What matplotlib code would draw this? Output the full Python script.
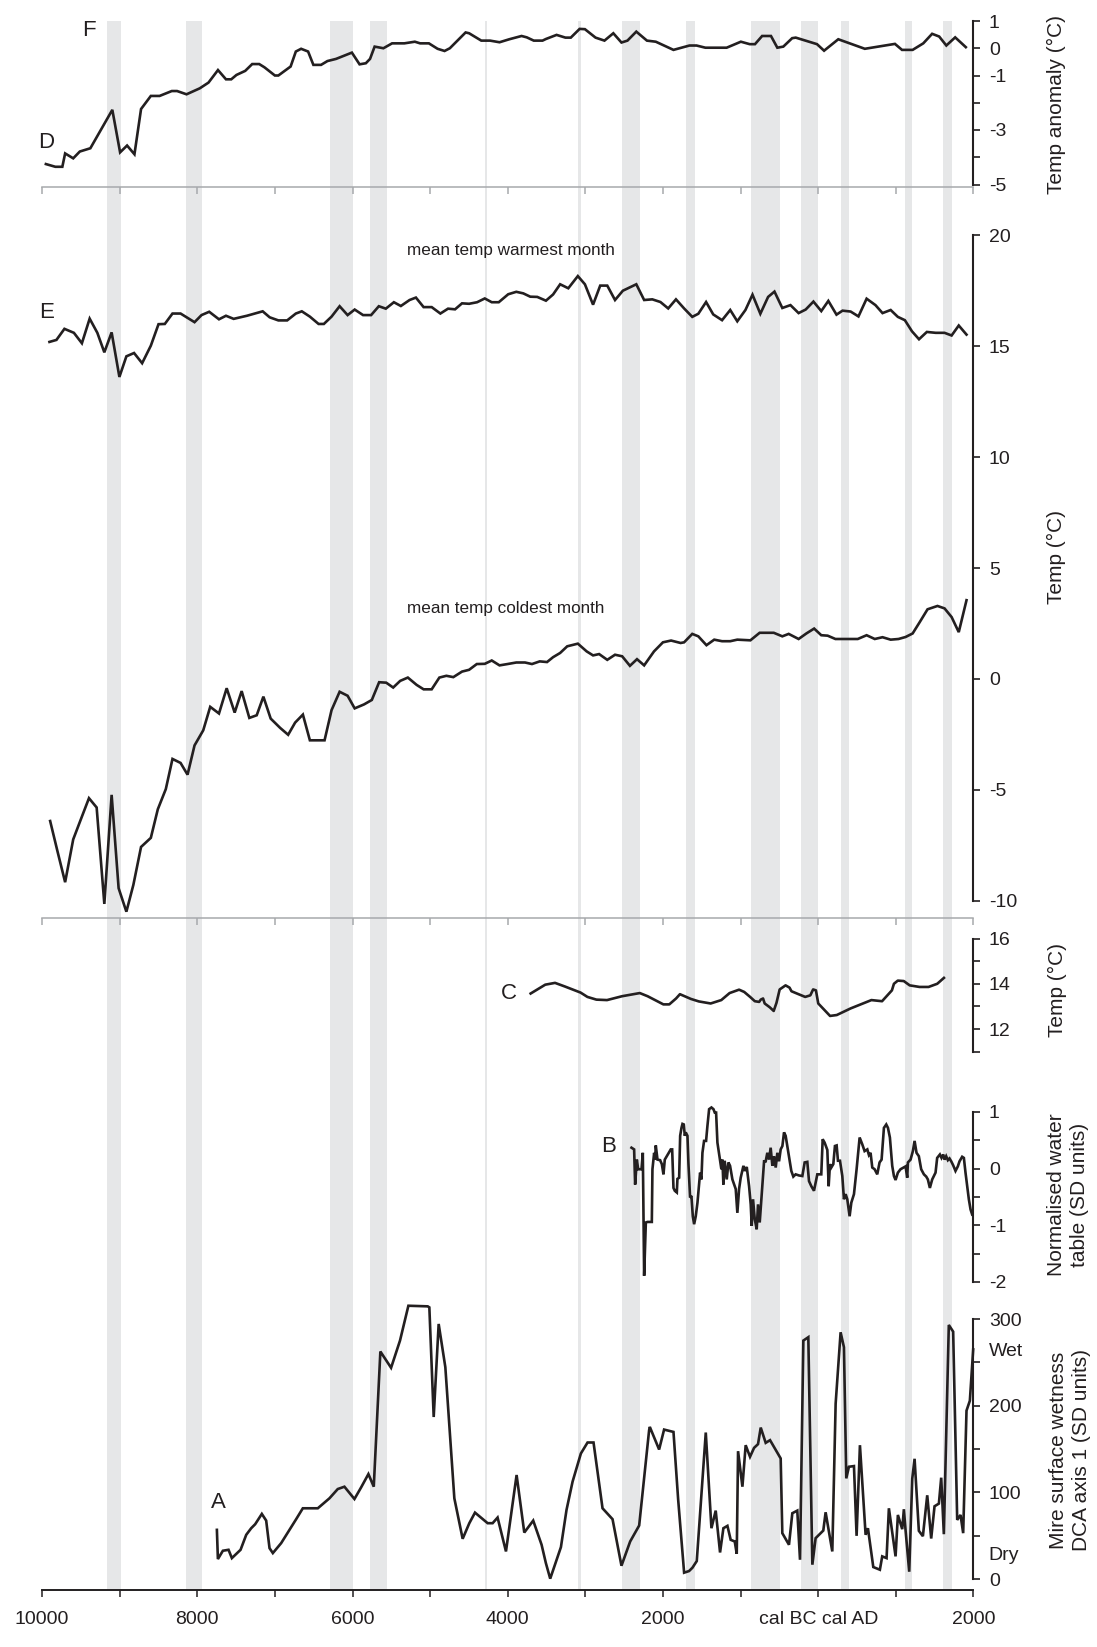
import matplotlib
matplotlib.use("Agg")
import matplotlib.pyplot as plt
import matplotlib.transforms as mtransforms

plt.rcParams['font.family'] = ['Liberation Sans', 'DejaVu Sans']

# ---------------- data ----------------
# grey event bands (cal yr; negative = BC)
band_start = [-9161, -8147, -6288, -5774, -4296, -3097, -2522, -1707, -862, -216, 288, 1112, 1610]
band_end   = [-8981, -7935, -5994, -5557, -4262, -3053, -2296, -1589, -497, 0, 400, 1202, 1725]

# D / F : temperature anomaly
df_year = [-9950, -9828, -9738, -9702, -9598, -9513, -9377, -9094, -8994, -8904,
           -8809, -8724, -8598, -8485, -8328, -8260, -8138, -7967, -7855, -7733,
           -7630, -7562, -7495, -7382, -7292, -7202, -7134, -7000, -6955, -6797,
           -6730, -6662, -6572, -6504, -6405, -6323, -6211, -6008, -5909, -5828,
           -5774, -5715, -5602, -5490, -5332, -5197, -5129, -5016, -4904, -4814,
           -4746, -4543, -4498, -4341, -4228, -4106, -3980, -3822, -3755, -3665,
           -3552, -3508, -3371, -3257, -3188, -3074, -3006, -2869, -2754, -2640,
           -2535, -2458, -2344, -2207, -2093, -1865, -1659, -1568, -1454, -1180,
           -997, -883, -815, -723, -609, -527, -450, -336, -290, -16,
           75, 258, 600, 988, 1079, 1216, 1353, 1467, 1558, 1650,
           1764, 1901]
df_val = [-4.25, -4.35, -4.35, -3.86, -4.04, -3.79, -3.67, -2.26, -3.82, -3.57,
          -3.89, -2.23, -1.75, -1.75, -1.57, -1.57, -1.69, -1.47, -1.26, -0.80,
          -1.14, -1.14, -0.98, -0.83, -0.58, -0.58, -0.70, -1.00, -1.00, -0.67,
          -0.12, -0.02, -0.12, -0.61, -0.61, -0.47, -0.39, -0.16, -0.59, -0.55,
          -0.39, 0.06, 0.00, 0.18, 0.18, 0.24, 0.18, 0.18, -0.02, -0.10,
          0.00, 0.58, 0.55, 0.28, 0.28, 0.22, 0.33, 0.45, 0.40, 0.28,
          0.28, 0.34, 0.49, 0.39, 0.39, 0.71, 0.70, 0.39, 0.28, 0.55,
          0.21, 0.28, 0.61, 0.28, 0.24, -0.06, 0.10, 0.10, 0.02, 0.02,
          0.24, 0.15, 0.15, 0.45, 0.45, 0.02, 0.06, 0.37, 0.39, 0.15,
          -0.09, 0.33, -0.02, 0.16, -0.06, -0.06, 0.18, 0.53, 0.43, 0.10,
          0.40, 0.04]

# E : mean temp warmest month
warm_year = [-9904, -9814, -9711, -9589, -9486, -9386, -9287, -9197, -9103, -9003,
             -8913, -8814, -8710, -8598, -8499, -8418, -8319, -8215, -8035, -7945,
             -7846, -7720, -7630, -7531, -7360, -7157, -7067, -6955, -6842, -6730,
             -6653, -6549, -6437, -6369, -6270, -6166, -6063, -5972, -5864, -5760,
             -5661, -5571, -5467, -5377, -5265, -5183, -5084, -4980, -4868, -4769,
             -4679, -4589, -4498, -4395, -4296, -4206, -4116, -3994, -3890, -3800,
             -3710, -3620, -3508,
             -3416, -3325, -3220, -3097, -3006, -2901, -2809, -2718, -2618, -2517,
             -2344, -2243, -2138, -2033, -1933, -1833, -1728, -1623, -1545, -1445,
             -1353, -1239, -1134, -1043, -938, -847, -746, -646, -564, -463,
             -358, -253, -162, -62, 39, 130, 235, 313, 417, 518,
             623, 737, 828, 933, 1025, 1116, 1207, 1298, 1399, 1513,
             1627, 1718, 1810, 1910]
warm_val = [15.20, 15.29, 15.79, 15.61, 15.14, 16.25, 15.61, 14.73, 15.63, 13.62,
            14.55, 14.70, 14.24, 15.03, 16.00, 16.01, 16.48, 16.48, 16.09, 16.41,
            16.56, 16.22, 16.38, 16.24, 16.38, 16.58, 16.31, 16.17, 16.17, 16.48,
            16.58, 16.34, 16.01, 16.01, 16.34, 16.81, 16.41, 16.66, 16.41, 16.41,
            16.81, 16.70, 16.99, 16.82, 17.09, 17.20, 16.77, 16.77, 16.48, 16.70,
            16.67, 16.94, 16.92, 16.99, 17.16, 16.99, 16.99, 17.35, 17.46, 17.39,
            17.24, 17.23, 17.06,
            17.34, 17.80, 17.62, 18.17, 17.80, 16.88, 17.74, 17.74, 17.09, 17.51,
            17.80, 17.09, 17.12, 17.00, 16.71, 17.12, 16.71, 16.33, 16.47, 17.00,
            16.44, 16.18, 16.64, 16.13, 16.64, 17.33, 16.47, 17.23, 17.47, 16.73,
            16.86, 16.50, 16.66, 17.02, 16.59, 17.05, 16.43, 16.61, 16.57, 16.35,
            17.15, 16.86, 16.50, 16.64, 16.33, 16.18, 15.68, 15.32, 15.65, 15.61,
            15.61, 15.49, 15.94, 15.53]

# E : mean temp coldest month
cold_year = [-9895, -9801, -9702, -9598, -9499, -9395, -9296, -9197, -9103, -9013,
             -8913, -8823, -8724, -8598, -8508, -8405, -8319, -8215, -8125, -8035,
             -7923, -7833, -7720, -7621, -7518, -7428, -7329, -7234, -7148, -7054,
             -6932, -6829, -6739, -6639, -6549, -6360, -6270, -6166, -6063, -5972,
             -5851, -5751, -5657, -5566, -5476, -5386, -5287, -5174, -5084, -4980,
             -4881, -4791, -4701, -4589, -4498, -4399, -4296, -4206, -4106, -4003,
             -3890, -3778, -3688, -3588,
             -3494, -3416, -3325, -3234, -3097, -2983, -2901, -2823, -2718, -2618,
             -2526, -2426, -2335, -2243, -2116, -2001, -1896, -1773, -1728, -1623,
             -1545, -1440, -1340, -1239, -1134, -1043, -874, -755, -573, -463,
             -381, -253, -153, -53, 39, 121, 221, 509, 623, 728,
             828, 933, 1034, 1125, 1216, 1307, 1408, 1536, 1627, 1718,
             1810, 1910]
cold_val = [-6.41, -7.77, -9.17, -7.24, -6.33, -5.38, -5.80, -10.15, -5.23, -9.44,
            -10.50, -9.29, -7.58, -7.17, -5.88, -4.97, -3.61, -3.79, -4.32, -3.00,
            -2.32, -1.26, -1.56, -0.42, -1.52, -0.55, -1.76, -1.64, -0.80, -1.79,
            -2.21, -2.52, -1.97, -1.61, -2.77, -2.77, -1.41, -0.58, -0.76, -1.33,
            -1.15, -0.95, -0.15, -0.17, -0.39, -0.09, 0.06, -0.27, -0.47, -0.47,
            0.06, 0.14, 0.08, 0.33, 0.41, 0.67, 0.68, 0.83, 0.61, 0.67,
            0.74, 0.74, 0.67, 0.79,
            0.76, 0.98, 1.17, 1.47, 1.59, 1.24, 1.06, 1.12, 0.86, 1.09,
            1.02, 0.59, 0.89, 0.61, 1.24, 1.65, 1.73, 1.62, 1.65, 2.03,
            1.92, 1.52, 1.77, 1.70, 1.70, 1.77, 1.74, 2.08, 2.08, 1.92,
            2.03, 1.80, 2.05, 2.27, 1.97, 1.95, 1.80, 1.80, 1.97, 1.80,
            1.88, 1.77, 1.80, 1.89, 2.05, 2.56, 3.14, 3.29, 3.18, 2.79,
            2.11, 3.55]

# C : temperature
c_year = [-3705, -3517, -3391, -3264, -3061, -2974, -2858, -2721, -2528, -2299,
          -2198, -1995, -1919, -1832, -1782, -1640, -1538, -1386, -1249, -1142,
          -1020, -954, -878, -817, -761, -741, -711, -690, -624, -574,
          -538, -497, -421, -370, -345, -254, -168, -102, -66, -30,
          0, 61, 152, 239, 416, 685, 822, 949, 975, 1025,
          1102, 1178, 1305, 1421, 1533, 1619]
c_val = [13.57, 13.96, 14.04, 13.88, 13.61, 13.42, 13.30, 13.28, 13.45, 13.59,
         13.45, 13.09, 13.09, 13.35, 13.54, 13.33, 13.22, 13.13, 13.28, 13.59,
         13.74, 13.64, 13.42, 13.23, 13.20, 13.30, 13.35, 13.13, 12.96, 12.80,
         13.16, 13.75, 13.93, 13.83, 13.67, 13.54, 13.42, 13.49, 13.75, 13.71,
         13.13, 12.91, 12.58, 12.62, 12.91, 13.28, 13.23, 13.71, 14.00, 14.14,
         14.12, 13.93, 13.86, 13.86, 14.00, 14.26]

# B : normalised water table
b_year = [-2406, -2372, -2359, -2337, -2320, -2277, -2260, -2243, -2221, -2200,
          -2144, -2136, -2114, -2101, -2093, -2071, -2037, -2015, -1994, -1977,
          -1951, -1900, -1882, -1865, -1848, -1822, -1814, -1792, -1779, -1762,
          -1749, -1732, -1719, -1707, -1685, -1672, -1651, -1634, -1616, -1599,
          -1578, -1556, -1522, -1505, -1492, -1471, -1445, -1428, -1406, -1376,
          -1350, -1333, -1316, -1299, -1273, -1248, -1235, -1222, -1205, -1179,
          -1157, -1136, -1106, -1063, -1042, -1020, -999, -964, -947, -921,
          -891, -870, -857, -840, -818, -793, -776, -754, -733, -698,
          -677, -656, -634, -613, -591, -570, -548, -527, -505, -484,
          -462, -441, -420, -377, -347, -321, -291, -248, -205, -175,
          -141, -119, -89, -55, -12, 39, 57, 82, 117, 134,
          151, 168, 194, 215, 237, 254, 280, 310, 331, 353,
          374, 404, 426, 460, 494, 533, 567, 597, 632, 653,
          674, 696, 726, 760, 790, 816, 846, 876, 898, 923,
          953, 975, 996, 1026, 1060, 1125, 1146, 1155, 1189, 1219,
          1241, 1266, 1296, 1326, 1361, 1391, 1412, 1438, 1468, 1511,
          1532, 1567, 1588, 1610, 1627, 1648, 1670, 1691, 1713, 1738,
          1768, 1798, 1820, 1854, 1876, 1897, 1919, 1940, 1962, 1983]
b_val = [0.37, 0.34, -0.28, 0.16, -0.01, -0.01, 0.28, -1.89, -0.95, -0.94,
         -0.94, -0.01, 0.28, 0.16, 0.41, 0.16, 0.15, 0.08, -0.10, 0.16,
         0.22, 0.34, 0.34, -0.34, -0.39, -0.42, -0.18, -0.16, 0.58, 0.72,
         0.79, 0.78, 0.58, 0.64, 0.58, 0.08, -0.51, -0.48, -0.84, -0.98,
         -0.84, -0.60, -0.07, -0.19, 0.28, 0.49, 0.49, 0.75, 1.05, 1.08,
         1.05, 0.99, 0.99, 0.46, 0.22, -0.01, 0.16, -0.28, 0.14, -0.19,
         0.11, 0.05, -0.19, -0.36, -0.78, -0.36, -0.16, 0.05, -0.04, 0.03,
         -0.31, -0.63, -1.01, -0.54, -0.89, -1.07, -0.63, -0.95, -0.54, 0.13,
         0.13, 0.28, 0.16, 0.37, 0.05, 0.22, 0.02, 0.28, 0.13, 0.34,
         0.40, 0.64, 0.58, 0.22, -0.04, -0.14, -0.10, -0.12, -0.13, 0.11,
         0.12, -0.22, -0.31, -0.39, -0.10, -0.10, 0.52, 0.46, 0.33, -0.31,
         0.08, 0.02, 0.08, 0.40, 0.41, 0.14, 0.14, -0.13, -0.54, -0.45,
         -0.54, -0.84, -0.60, -0.45, -0.01, 0.55, 0.43, 0.31, 0.34, 0.24,
         0.28, 0.02, -0.01, -0.10, 0.11, 0.16, 0.72, 0.78, 0.72, 0.55,
         0.05, -0.13, -0.20, -0.07, -0.01, 0.04, -0.16, 0.11, 0.16, 0.31,
         0.49, 0.28, 0.22, -0.01, -0.10, -0.14, -0.19, -0.34, -0.19, -0.07,
         0.19, 0.25, 0.19, 0.25, 0.16, 0.22, 0.15, 0.18, 0.13, 0.06,
         -0.04, 0.04, 0.13, 0.21, 0.19, -0.07, -0.31, -0.54, -0.72, -0.81]

# A : mire surface wetness (DCA axis 1)
a_year = [-7747, -7734, -7670, -7597, -7554, -7442, -7369, -7305, -7254, -7168,
          -7112, -7069, -7026, -6919, -6812, -6726, -6640, -6447, -6297, -6190,
          -6104, -5975, -5889, -5795, -5726, -5641, -5503, -5388, -5280, -5031,
          -5010, -4954, -4890, -4804, -4688, -4581, -4495, -4422, -4259, -4195,
          -4131, -4023, -3886, -3787, -3672, -3564, -3509, -3453, -3315, -3243,
          -3165, -3058, -2972, -2895, -2779, -2650, -2535, -2423, -2307, -2179,
          -2170, -2050, -1986, -1865, -1805, -1728, -1664, -1621, -1565, -1449,
          -1376, -1321, -1265, -1222, -1170, -1128, -1076, -1050, -1033, -977,
          -935, -879, -827, -776, -741, -677, -621, -484, -463, -377,
          -334, -270, -235, -192, -128, -76, -34, 65, 95, 181,
          224, 288, 331, 361, 395, 460, 494, 537, 610, 640,
          709, 794, 824, 880, 910, 996, 1026, 1082, 1103, 1125,
          1172, 1211, 1241, 1296, 1348, 1404, 1455, 1498, 1554, 1584,
          1618, 1682, 1738, 1790, 1833, 1867, 1910, 1953, 1996]
a_val = [56.7, 23.0, 32.6, 33.7, 24.1, 33.7, 51.0, 58.6, 63.2, 75.1,
         67.4, 35.6, 29.9, 41.4, 56.7, 69.0, 81.6, 81.6, 93.1, 103.8,
         106.5, 92.3, 105.7, 121.1, 106.5, 262.5, 243.7, 275.1, 315.3, 314.6,
         313.4, 186.9, 294.3, 244.4, 93.1, 46.4, 64.4, 76.6, 64.4, 64.4,
         70.9, 31.8, 120.0, 53.6, 67.4, 39.5, 18.4, 0.4, 36.8, 79.7,
         112.3, 144.8, 157.5, 157.5, 81.6, 69.0, 15.3, 43.3, 61.7, 171.6,
         175.5, 149.4, 172.4, 169.7, 92.0, 7.3, 9.2, 13.0, 20.7, 169.0,
         58.6, 78.9, 30.6, 58.6, 61.3, 45.2, 43.3, 29.1, 147.5, 106.5,
         154.4, 141.0, 151.3, 155.6, 174.7, 157.1, 160.2, 139.1, 52.9, 39.5,
         75.9, 78.9, 22.2, 275.1, 279.0, 16.5, 47.1, 55.9, 77.0, 31.8,
         202.3, 284.7, 267.4, 116.1, 129.5, 130.3, 49.8, 154.4, 51.0, 58.6,
         13.8, 10.7, 26.1, 24.1, 81.6, 26.1, 73.9, 57.5, 80.5, 56.1,
         8.4, 115.7, 138.7, 55.6, 49.4, 96.6, 46.7, 83.9, 87.0, 116.9,
         51.7, 293.1, 285.4, 68.2, 73.9, 52.9, 194.3, 205.7, 264.9]

x_ticks = list(range(-10000, 2001, 1000))
x_label_pos = [-10000, -8000, -6000, -4000, -2000, 0, 2000]
x_label_txt = ['10000', '8000', '6000', '4000', '2000', 'cal BC cal AD', '2000']

# ---------------- layout ----------------
W, H, DPI = 1097, 1647, 100
fig = plt.figure(figsize=(W / DPI, H / DPI), dpi=DPI)

LINE = '#231f20'
GREY = '#a7a9ac'
BAND = '#e6e7e8'
XL, XR = 42.0, 973.5
L = XL / W
WID = (XR - XL) / W
XMIN, XMAX = -10000, 2000
TICK_FS = 14
LAB_FS = 15


def fx(px):
    return px / W


def fy(py):
    return 1 - py / H


# background axes with bands and the bottom time axis
BG_TOP, BG_BOT = 21.0, 1590.0
bg = fig.add_axes([L, fy(BG_BOT), WID, (BG_BOT - BG_TOP) / H])
bg.set_xlim(XMIN, XMAX)
bg.set_ylim(0, 1)
for s, e in zip(band_start, band_end):
    bg.axvspan(s, e, color=BAND, lw=0, zorder=0)
for sp in ['left', 'right', 'top']:
    bg.spines[sp].set_visible(False)
bg.spines['bottom'].set_color(LINE)
bg.spines['bottom'].set_linewidth(1.4)
bg.set_yticks([])
bg.set_xticks(x_ticks, minor=True)
bg.set_xticks(x_label_pos)
bg.set_xticklabels(x_label_txt)
bg.tick_params(axis='x', which='both', direction='out', length=5, width=1.1,
               color=LINE, labelsize=TICK_FS, pad=10, labelcolor=LINE)
bg.patch.set_visible(False)


def panel(p_hi, v_hi, p_lo, v_lo, top_px, bot_px, bounds, ticks, labels, xaxis):
    k = (v_hi - v_lo) / (p_lo - p_hi)
    ytop = v_hi + (p_hi - top_px) * k
    ybot = v_lo - (bot_px - p_lo) * k
    ax = fig.add_axes([L, fy(bot_px), WID, (bot_px - top_px) / H])
    ax.set_xlim(XMIN, XMAX)
    ax.set_ylim(ybot, ytop)
    ax.patch.set_visible(False)
    ax.spines['left'].set_visible(False)
    ax.spines['top'].set_visible(False)
    ax.spines['right'].set_bounds(*bounds)
    ax.spines['right'].set_linewidth(1.5)
    ax.spines['right'].set_color(LINE)
    ax.yaxis.tick_right()
    ax.set_yticks(ticks)
    ax.set_yticklabels(labels)
    ax.tick_params(axis='y', direction='out', length=5, width=1.2, color=LINE,
                   labelsize=TICK_FS, pad=6, labelcolor=LINE)
    if xaxis:
        ax.spines['bottom'].set_color(GREY)
        ax.spines['bottom'].set_linewidth(1.1)
        ax.set_xticks(x_ticks)
        ax.set_xticklabels([])
        ax.tick_params(axis='x', direction='out', length=5, width=1.1, color=GREY)
    else:
        ax.spines['bottom'].set_visible(False)
        ax.set_xticks([])
    return ax


# D / F panel
ax1 = panel(21, 1, 184.5, -5, 21, 187, (-5, 1), [1, 0, -1, -2, -3, -4, -5],
            ['1', '0', '-1', '', '-3', '', '-5'], True)
ax1.plot(df_year, df_val, color=LINE, lw=1.9, clip_on=False, solid_joinstyle='miter')

# E panel
ax2 = panel(235.5, 20, 900.6, -10, 235.5, 918, (-10, 20), [20, 15, 10, 5, 0, -5, -10],
            ['20', '15', '10', '5', '0', '-5', '-10'], True)
ax2.plot(warm_year, warm_val, color=LINE, lw=1.9, clip_on=False, solid_joinstyle='miter')
ax2.plot(cold_year, cold_val, color=LINE, lw=1.9, clip_on=False, solid_joinstyle='miter')

# C panel
ax3 = panel(938.5, 16, 1051.7, 11, 938.5, 1051.7, (11, 16), [16, 15, 14, 13, 12, 11],
            ['16', '', '14', '', '12', ''], False)
ax3.plot(c_year, c_val, color=LINE, lw=1.9, clip_on=False)

# B panel
ax4 = panel(1112, 1, 1282, -2, 1112, 1282, (-2, 1), [1, 0.5, 0, -0.5, -1, -1.5, -2],
            ['1', '', '0', '', '-1', '', '-2'], False)
ax4.plot(b_year, b_val, color=LINE, lw=1.9, clip_on=False, solid_joinstyle='miter')

# A panel
ax5 = panel(1319, 300, 1579, 0, 1295, 1590, (0, 300), [300, 250, 200, 150, 100, 50, 0],
            ['300', '', '200', '', '100', '', '0'], False)
ax5.plot(a_year, a_val, color=LINE, lw=1.9, clip_on=False, solid_joinstyle='miter')
trans5 = mtransforms.blended_transform_factory(ax5.transAxes, ax5.transData)
ax5.annotate('Wet', xy=(1.0, 262), xycoords=trans5, xytext=(15, 0),
             textcoords='offset pixels', ha='left', va='center',
             fontsize=TICK_FS, color=LINE)
ax5.annotate('Dry', xy=(1.0, 27), xycoords=trans5, xytext=(15, 0),
             textcoords='offset pixels', ha='left', va='center',
             fontsize=TICK_FS, color=LINE)

# axis titles (right side)
fig.text(fx(1056), fy(104), 'Temp anomaly (°C)', rotation=90, ha='center', va='center',
         fontsize=LAB_FS, color=LINE)
fig.text(fx(1056), fy(557), 'Temp (°C)', rotation=90, ha='center', va='center',
         fontsize=LAB_FS, color=LINE)
fig.text(fx(1057), fy(990), 'Temp (°C)', rotation=90, ha='center', va='center',
         fontsize=LAB_FS, color=LINE)
fig.text(fx(1068), fy(1195), 'Normalised water\ntable (SD units)', rotation=90,
         ha='center', va='center', fontsize=LAB_FS, color=LINE, linespacing=1.3,
         multialignment='center')
fig.text(fx(1070), fy(1450), 'Mire surface wetness\nDCA axis 1 (SD units)', rotation=90,
         ha='center', va='center', fontsize=LAB_FS, color=LINE, linespacing=1.3,
         multialignment='center')

# panel letters
for letter, (px, py) in {'F': (89, 31), 'D': (46, 142), 'E': (47, 313),
                         'C': (509, 993), 'B': (609, 1147), 'A': (218, 1503)}.items():
    fig.text(fx(px), fy(py), letter, ha='center', va='center', fontsize=16, color=LINE)

fig.text(fx(511), fy(251), 'mean temp warmest month', ha='center', va='center',
         fontsize=12.3, color=LINE)
fig.text(fx(506), fy(608), 'mean temp coldest month', ha='center', va='center',
         fontsize=12.3, color=LINE)

fig.savefig('out.png', dpi=DPI)
